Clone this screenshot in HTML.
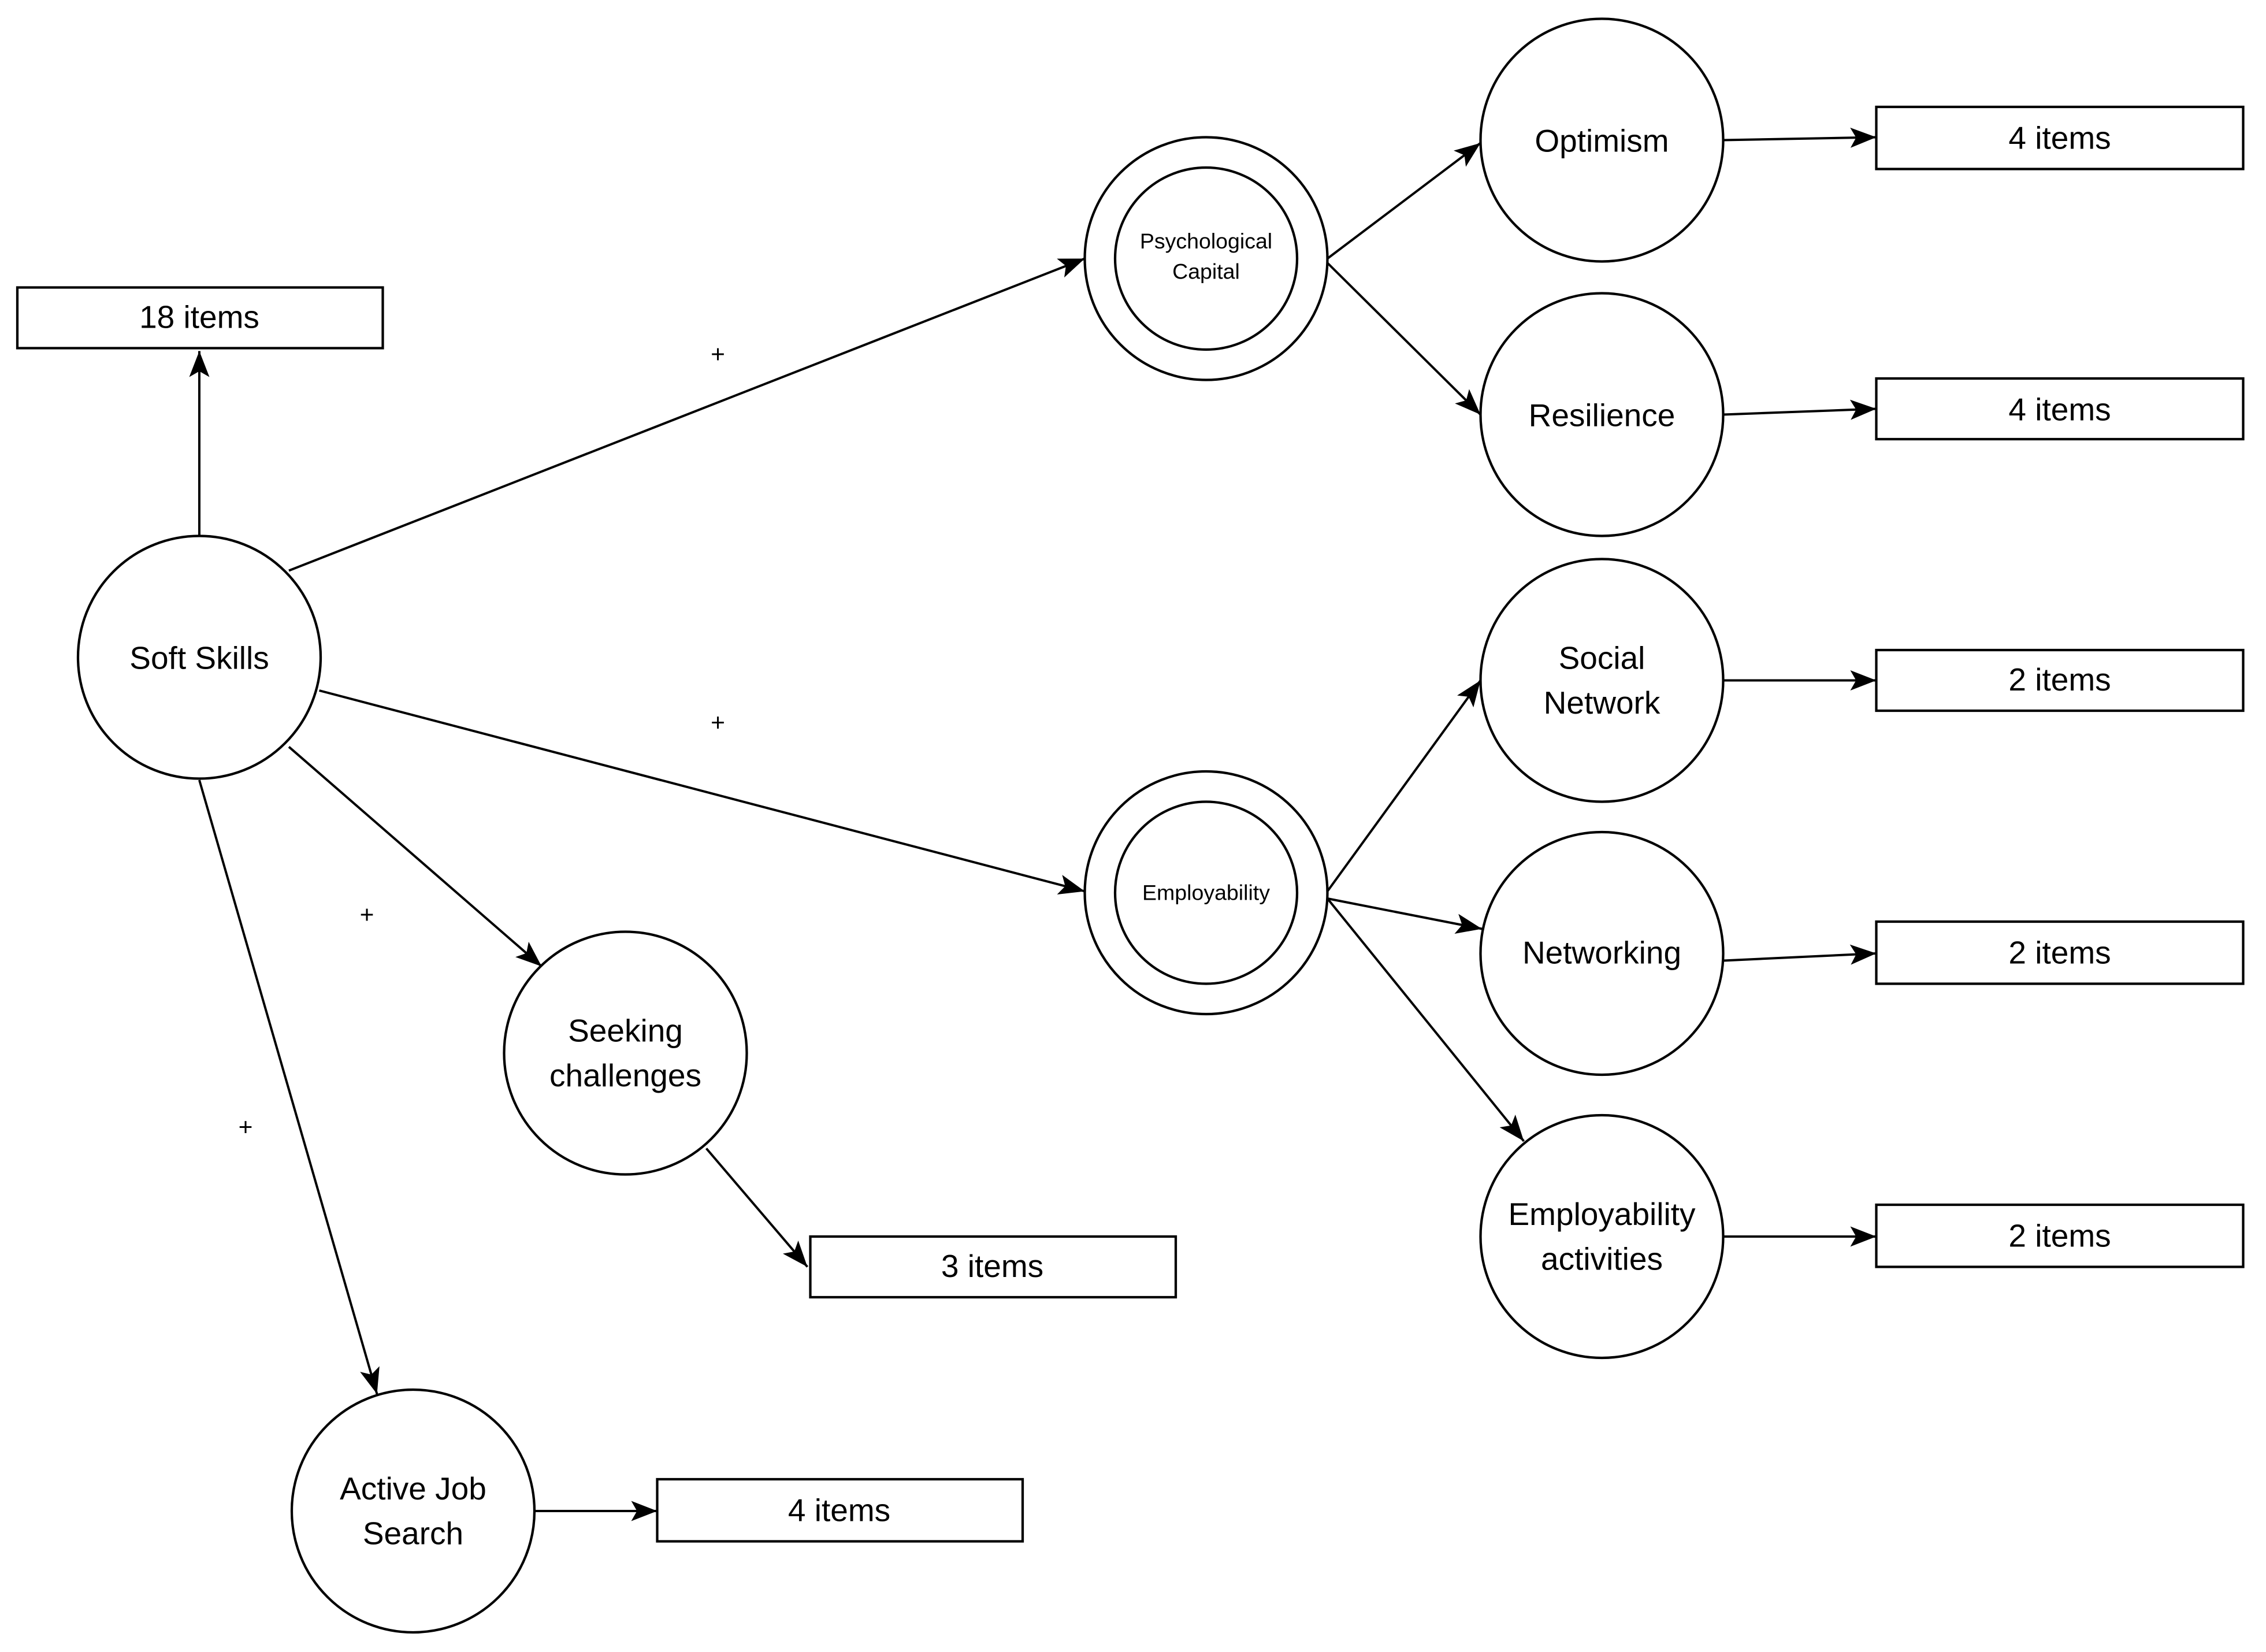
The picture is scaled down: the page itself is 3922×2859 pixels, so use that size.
<!DOCTYPE html>
<html><head><meta charset="utf-8"><style>html,body{margin:0;padding:0;background:#fff}svg{display:block}</style></head>
<body>
<svg width="3922" height="2859" viewBox="0 0 1568.8 1143.6" xmlns="http://www.w3.org/2000/svg" font-family="Liberation Sans, Arial, sans-serif">
<defs>
<marker id="a" markerUnits="userSpaceOnUse" markerWidth="20" markerHeight="16" refX="18" refY="7" orient="auto">
<path d="M0,0 L18,7 L0,14 L4,7 Z" fill="#000"/>
</marker>
</defs>
<rect width="1568.8" height="1143.6" fill="#fff"/>
<g stroke="#000" stroke-width="1.6" fill="none" marker-end="url(#a)">
<line x1="138" y1="371" x2="138" y2="243"/>
<line x1="200" y1="395" x2="751" y2="179"/>
<line x1="221" y1="478" x2="751" y2="617"/>
<line x1="200" y1="517" x2="375" y2="669"/>
<line x1="138" y1="540" x2="261" y2="965"/>
<line x1="489" y1="795" x2="559" y2="877"/>
<line x1="370" y1="1046" x2="455" y2="1046"/>
<line x1="919" y1="179" x2="1025" y2="99"/>
<line x1="919" y1="182" x2="1025" y2="287"/>
<line x1="1193" y1="97" x2="1299" y2="95"/>
<line x1="1193" y1="287" x2="1299" y2="283"/>
<line x1="919" y1="617" x2="1025" y2="471"/>
<line x1="919" y1="622" x2="1026" y2="643"/>
<line x1="919" y1="622" x2="1055" y2="790"/>
<line x1="1193" y1="471" x2="1299" y2="471"/>
<line x1="1193" y1="665" x2="1299" y2="660"/>
<line x1="1193" y1="856" x2="1299" y2="856"/>
</g>
<g stroke="#000" stroke-width="1.7" fill="#fff">
<circle cx="138" cy="455" r="84"/>
<circle cx="835" cy="179" r="84"/><circle cx="835" cy="179" r="63"/>
<circle cx="835" cy="618" r="84"/><circle cx="835" cy="618" r="63"/>
<circle cx="1109" cy="97" r="84"/>
<circle cx="1109" cy="287" r="84"/>
<circle cx="1109" cy="471" r="84"/>
<circle cx="1109" cy="660" r="84"/>
<circle cx="1109" cy="856" r="84"/>
<circle cx="433" cy="729" r="84"/>
<circle cx="286" cy="1046" r="84"/>
<rect x="12" y="199" width="253" height="42"/>
<rect x="1299" y="74" width="254" height="43"/>
<rect x="1299" y="262" width="254" height="42"/>
<rect x="1299" y="450" width="254" height="42"/>
<rect x="1299" y="638" width="254" height="43"/>
<rect x="1299" y="834" width="254" height="43"/>
<rect x="561" y="856" width="253" height="42"/>
<rect x="455" y="1024" width="253" height="43"/>
</g>
<g fill="#000" font-size="22" text-anchor="middle">
<text x="138" y="463">Soft Skills</text>
<text x="138" y="227">18 items</text>
<text x="1109" y="105">Optimism</text>
<text x="1109" y="295">Resilience</text>
<text x="1109" y="463">Social</text><text x="1109" y="494">Network</text>
<text x="1109" y="667">Networking</text>
<text x="1109" y="848">Employability</text><text x="1109" y="879">activities</text>
<text x="433" y="721">Seeking</text><text x="433" y="752">challenges</text>
<text x="286" y="1038">Active Job</text><text x="286" y="1069">Search</text>
<text x="1426" y="103">4 items</text>
<text x="1426" y="291">4 items</text>
<text x="1426" y="478">2 items</text>
<text x="1426" y="667">2 items</text>
<text x="1426" y="863">2 items</text>
<text x="687" y="884">3 items</text>
<text x="581" y="1053">4 items</text>
<g font-size="15">
<text x="835" y="172">Psychological</text><text x="835" y="193">Capital</text>
<text x="835" y="623">Employability</text>
</g>
<g font-size="17">
<text x="497" y="251">+</text>
<text x="497" y="506">+</text>
<text x="254" y="639">+</text>
<text x="170" y="786">+</text>
</g>
</g>
</svg>
</body></html>
